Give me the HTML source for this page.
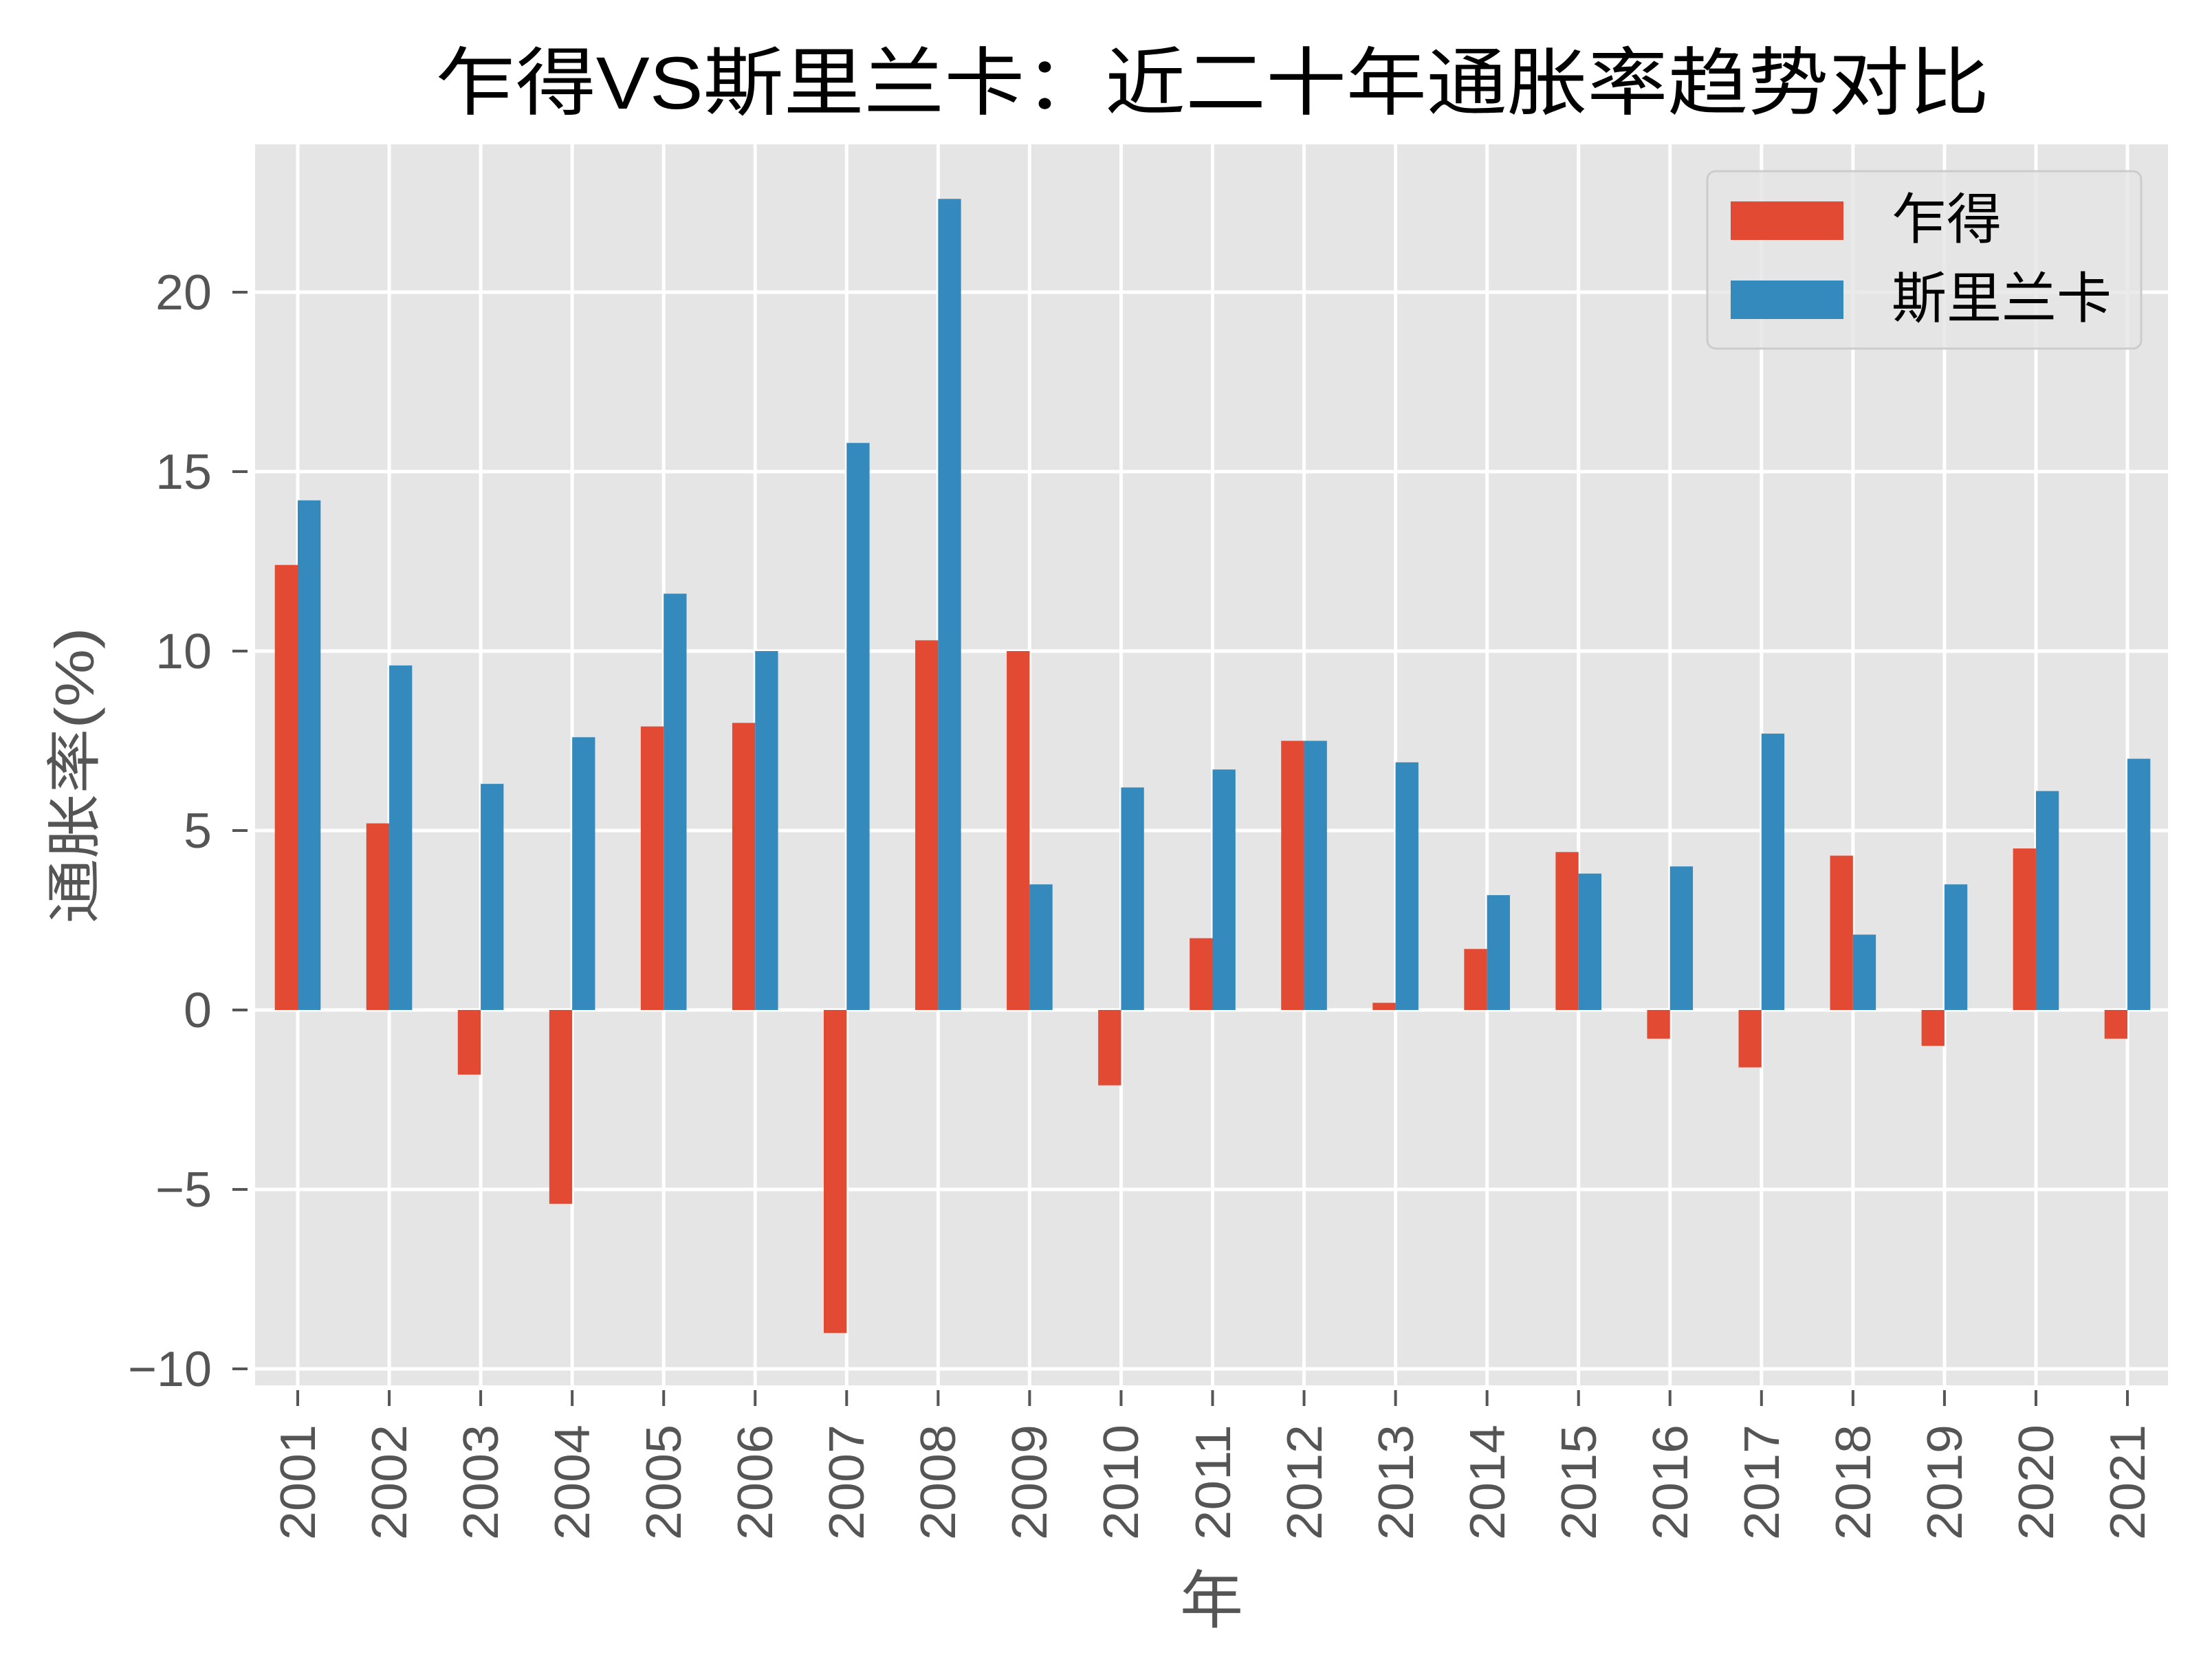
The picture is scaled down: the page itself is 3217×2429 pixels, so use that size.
<!DOCTYPE html>
<html><head><meta charset="utf-8"><style>
html,body{margin:0;padding:0;background:#fff;}
svg{display:block;}
text{font-family:"Liberation Sans","Noto Sans CJK SC",sans-serif;}
</style></head><body>
<svg id="s" width="3217" height="2429" viewBox="0 0 3217 2429" xmlns="http://www.w3.org/2000/svg">
<rect x="0" y="0" width="3217" height="2429" fill="#fff"/>
<rect x="371" y="210" width="2782" height="1805" fill="#E5E5E5"/>
<g id="grid" stroke="#fff" stroke-width="5"></g>
<g id="bars"></g>
<g id="ticks" stroke="#555" stroke-width="4"></g>
<g fill="#555" font-size="72" text-anchor="end">
<text x="308" y="450" textLength="82" lengthAdjust="spacingAndGlyphs">20</text>
<text x="308" y="711" textLength="82" lengthAdjust="spacingAndGlyphs">15</text>
<text x="308" y="972" textLength="82" lengthAdjust="spacingAndGlyphs">10</text>
<text x="308" y="1233" textLength="41" lengthAdjust="spacingAndGlyphs">5</text>
<text x="308" y="1494" textLength="41" lengthAdjust="spacingAndGlyphs">0</text>
<text x="308" y="1755" textLength="82" lengthAdjust="spacingAndGlyphs">−5</text>
<text x="308" y="2016" textLength="122" lengthAdjust="spacingAndGlyphs">−10</text>
</g>
<text x="1763" y="158" font-size="108" text-anchor="middle" fill="#000" textLength="2260" lengthAdjust="spacingAndGlyphs">乍得VS斯里兰卡：近二十年通胀率趋势对比</text>
<text transform="translate(136,1128) rotate(-90)" font-size="80" text-anchor="middle" fill="#555" textLength="431" lengthAdjust="spacingAndGlyphs">通胀率(%)</text>
<text x="1762" y="2360" font-size="92" text-anchor="middle" fill="#555">年</text>
<rect x="2483" y="249" width="631" height="258" rx="12" fill="#E5E5E5" fill-opacity="0.8" stroke="#ccc" stroke-width="3"/>
<rect x="2517" y="293" width="164" height="56" fill="#E24A33"/>
<rect x="2517" y="408" width="164" height="56" fill="#348ABD"/>
<text x="2751" y="347" font-size="80" fill="#000">乍得</text>
<text x="2751" y="462" font-size="80" fill="#000">斯里兰卡</text>
<g fill="#555" font-size="72" text-anchor="end">
<text transform="translate(458,2072) rotate(-90)" textLength="168" lengthAdjust="spacingAndGlyphs">2001</text>
<text transform="translate(591,2072) rotate(-90)" textLength="168" lengthAdjust="spacingAndGlyphs">2002</text>
<text transform="translate(724,2072) rotate(-90)" textLength="168" lengthAdjust="spacingAndGlyphs">2003</text>
<text transform="translate(857,2072) rotate(-90)" textLength="168" lengthAdjust="spacingAndGlyphs">2004</text>
<text transform="translate(990,2072) rotate(-90)" textLength="168" lengthAdjust="spacingAndGlyphs">2005</text>
<text transform="translate(1123,2072) rotate(-90)" textLength="168" lengthAdjust="spacingAndGlyphs">2006</text>
<text transform="translate(1256,2072) rotate(-90)" textLength="168" lengthAdjust="spacingAndGlyphs">2007</text>
<text transform="translate(1389,2072) rotate(-90)" textLength="168" lengthAdjust="spacingAndGlyphs">2008</text>
<text transform="translate(1522,2072) rotate(-90)" textLength="168" lengthAdjust="spacingAndGlyphs">2009</text>
<text transform="translate(1655,2072) rotate(-90)" textLength="168" lengthAdjust="spacingAndGlyphs">2010</text>
<text transform="translate(1789,2072) rotate(-90)" textLength="168" lengthAdjust="spacingAndGlyphs">2011</text>
<text transform="translate(1922,2072) rotate(-90)" textLength="168" lengthAdjust="spacingAndGlyphs">2012</text>
<text transform="translate(2055,2072) rotate(-90)" textLength="168" lengthAdjust="spacingAndGlyphs">2013</text>
<text transform="translate(2188,2072) rotate(-90)" textLength="168" lengthAdjust="spacingAndGlyphs">2014</text>
<text transform="translate(2321,2072) rotate(-90)" textLength="168" lengthAdjust="spacingAndGlyphs">2015</text>
<text transform="translate(2454,2072) rotate(-90)" textLength="168" lengthAdjust="spacingAndGlyphs">2016</text>
<text transform="translate(2587,2072) rotate(-90)" textLength="168" lengthAdjust="spacingAndGlyphs">2017</text>
<text transform="translate(2720,2072) rotate(-90)" textLength="168" lengthAdjust="spacingAndGlyphs">2018</text>
<text transform="translate(2853,2072) rotate(-90)" textLength="168" lengthAdjust="spacingAndGlyphs">2019</text>
<text transform="translate(2986,2072) rotate(-90)" textLength="168" lengthAdjust="spacingAndGlyphs">2020</text>
<text transform="translate(3119,2072) rotate(-90)" textLength="168" lengthAdjust="spacingAndGlyphs">2021</text>
</g>
</svg>
<script>
var NS="http://www.w3.org/2000/svg";
function el(p,t,a){var e=document.createElementNS(NS,t);for(var k in a)e.setAttribute(k,a[k]);document.getElementById(p).appendChild(e);return e;}
var chad=[12.4,5.2,-1.8,-5.4,7.9,8.0,-9.0,10.3,10.0,-2.1,2.0,7.5,0.2,1.7,4.4,-0.8,-1.6,4.3,-1.0,4.5,-0.8];
var sri=[14.2,9.6,6.3,7.6,11.6,10.0,15.8,22.6,3.5,6.2,6.7,7.5,6.9,3.2,3.8,4.0,7.7,2.1,3.5,6.1,7.0];
var z=1469,u=52.2,x0=433,st=133.05,w=33.3;
for(var v=-10;v<=20;v+=5){var y=z-v*u;el("grid","line",{x1:371,x2:3153,y1:y,y2:y});el("ticks","line",{x1:338,x2:360,y1:y,y2:y});}
for(var i=0;i<21;i++){var c=x0+st*i;el("grid","line",{x1:c,x2:c,y1:210,y2:2015});el("ticks","line",{x1:c,x2:c,y1:2022,y2:2045});
var a=chad[i],b=sri[i];
el("bars","rect",{x:c-w,y:Math.min(z,z-a*u),width:w,height:Math.abs(a*u),fill:"#E24A33"});
el("bars","rect",{x:c,y:Math.min(z,z-b*u),width:w,height:Math.abs(b*u),fill:"#348ABD"});
}
</script>
</body></html>
